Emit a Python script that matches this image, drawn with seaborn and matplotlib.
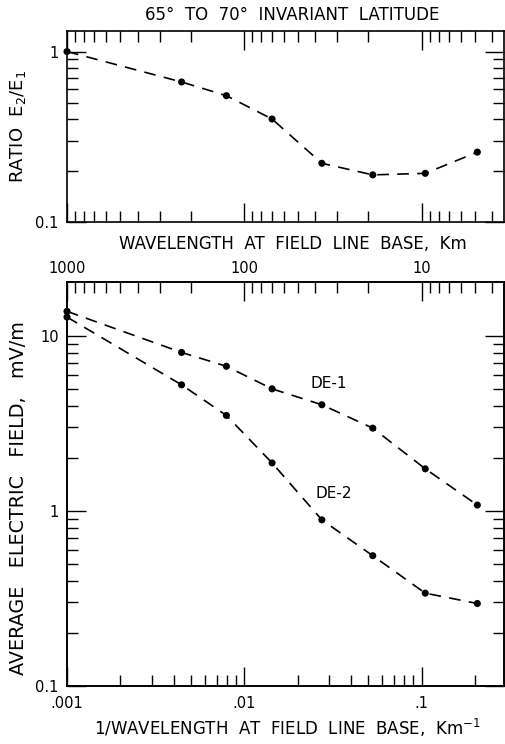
import numpy as np
import pandas as pd
import matplotlib
matplotlib.use("Agg")
import matplotlib.pyplot as plt
from matplotlib.ticker import FixedLocator, NullFormatter, FixedFormatter
import seaborn as sns

# ---- data ----
inv_wavelength = [0.001, 0.00443, 0.00793, 0.01435, 0.0274, 0.0531, 0.105, 0.2065]
ratio_e2_e1 = [1.0, 0.663, 0.551, 0.402, 0.221, 0.189, 0.193, 0.257]
de1_field = [13.8, 8.04, 6.70, 4.98, 4.04, 2.97, 1.74, 1.08]
de2_field = [12.8, 5.25, 3.51, 1.88, 0.889, 0.555, 0.339, 0.296]

freq_major = [0.001, 0.01, 0.1]
freq_major_labels = [".001", ".01", ".1"]
wavelength_major = [1000, 100, 10]
wavelength_major_labels = ["1000", "100", "10"]
wavelength_minor = [900, 800, 700, 600, 500, 400, 300, 200,
                    90, 80, 70, 60, 50, 40, 30, 20,
                    9, 8, 7, 6, 5, 4]

df_ratio = pd.DataFrame({"f": inv_wavelength, "r": ratio_e2_e1})
df_field = pd.DataFrame({"f": inv_wavelength * 2,
                         "E": de1_field + de2_field,
                         "sat": ["DE-1"] * len(de1_field) + ["DE-2"] * len(de2_field)})

sns.set_style("ticks", {"axes.edgecolor": "black", "text.color": "black",
                        "xtick.color": "black", "ytick.color": "black",
                        "axes.labelcolor": "black"})
plt.rcParams["font.family"] = ["DejaVu Sans"]
plt.rcParams["axes.linewidth"] = 1.2

FS = 10.5
LFS = 12
DASH = (0, (7, 5))
XLIM = (0.001, 0.292)

fig = plt.figure(figsize=(5.06, 7.44), dpi=100)
ax1 = fig.add_axes([67 / 506, 1 - 222 / 744, 437 / 506, 191 / 744])
ax2 = fig.add_axes([67 / 506, 1 - 686 / 744, 437 / 506, 404 / 744])

# ---- top panel: ratio ----
sns.lineplot(data=df_ratio, x="f", y="r", ax=ax1, color="black",
             linestyle=DASH, linewidth=1.2, sort=False)
sns.scatterplot(data=df_ratio, x="f", y="r", ax=ax1, color="black",
                s=26, edgecolor="none", zorder=4, clip_on=False)
ax1.set_xscale("log")
ax1.set_yscale("log")
ax1.set_xlim(*XLIM)
ax1.set_ylim(0.1, 1.32)
ax1.xaxis.set_major_locator(FixedLocator([1 / w for w in wavelength_major]))
ax1.xaxis.set_minor_locator(FixedLocator([1 / w for w in wavelength_minor]))
ax1.xaxis.set_major_formatter(NullFormatter())
ax1.xaxis.set_minor_formatter(NullFormatter())
ax1.yaxis.set_major_locator(FixedLocator([0.1, 1]))
ax1.yaxis.set_major_formatter(FixedFormatter(["0.1", "1"]))
ax1.yaxis.set_minor_locator(FixedLocator([0.2, 0.3, 0.4, 0.5, 0.6, 0.7, 0.8, 0.9]))
ax1.yaxis.set_minor_formatter(NullFormatter())
ax1.set_xlabel("")
ax1.set_ylabel("RATIO  E$_2$/E$_1$", fontsize=LFS + 1)
ax1.yaxis.label.set_va("center")
ax1.yaxis.set_label_coords(-0.112, 0.5)
ax1.text(0.516, 1.084, "65°  TO  70°  INVARIANT  LATITUDE", transform=ax1.transAxes,
         ha="center", va="center", fontsize=LFS)

# ---- bottom panel: average electric field ----
for name in ["DE-1", "DE-2"]:
    sub = df_field[df_field["sat"] == name]
    sns.lineplot(data=sub, x="f", y="E", ax=ax2, color="black",
                 linestyle=DASH, linewidth=1.2, sort=False)
    sns.scatterplot(data=sub, x="f", y="E", ax=ax2, color="black",
                    s=26, edgecolor="none", zorder=4, clip_on=False)
ax2.set_xscale("log")
ax2.set_yscale("log")
ax2.set_xlim(*XLIM)
ax2.set_ylim(0.1, 20.3)
ax2.xaxis.set_major_locator(FixedLocator(freq_major))
ax2.xaxis.set_major_formatter(FixedFormatter(freq_major_labels))
ax2.xaxis.set_minor_locator(FixedLocator([m * d for d in [0.001, 0.01, 0.1]
                                          for m in range(2, 10) if m * d < XLIM[1]]))
ax2.xaxis.set_minor_formatter(NullFormatter())
ax2.yaxis.set_major_locator(FixedLocator([0.1, 1, 10]))
ax2.yaxis.set_major_formatter(FixedFormatter(["0.1", "1", "10"]))
ax2.yaxis.set_minor_locator(FixedLocator([m * d for d in [0.1, 1]
                                          for m in range(2, 10)]))
ax2.yaxis.set_minor_formatter(NullFormatter())
ax2.set_ylabel("AVERAGE   ELECTRIC   FIELD,   mV/m", fontsize=LFS + 1.8)
ax2.yaxis.label.set_va("center")
ax2.yaxis.set_label_coords(-0.11, 0.465)
ax2.set_xlabel("1/WAVELENGTH  AT  FIELD  LINE  BASE,  Km$^{-1}$", fontsize=LFS)
ax2.xaxis.set_label_coords(0.505, -0.104)
ax2.xaxis.label.set_va("center")
ax2.text(0.0299, 5.33, "DE-1", ha="center", va="center", fontsize=FS + 0.5)
ax2.text(0.0319, 1.26, "DE-2", ha="center", va="center", fontsize=FS + 0.5)

# top (wavelength) axis of the bottom panel
axt = ax2.twiny()
axt.set_xscale("log")
axt.set_xlim(*XLIM)
axt.xaxis.set_major_locator(FixedLocator([1 / w for w in wavelength_major]))
axt.xaxis.set_major_formatter(FixedFormatter(wavelength_major_labels))
axt.xaxis.set_minor_locator(FixedLocator([1 / w for w in wavelength_minor]))
axt.xaxis.set_minor_formatter(NullFormatter())
axt.set_xlabel("WAVELENGTH  AT  FIELD  LINE  BASE,  Km", fontsize=LFS)
axt.xaxis.set_label_coords(0.518, 1.094)
axt.xaxis.label.set_va("center")
axt.tick_params(axis="x", which="major", direction="in", length=14, width=1.0,
                labelsize=FS, pad=4)
axt.tick_params(axis="x", which="minor", direction="in", length=8, width=1.0)

# common tick styling
for ax in (ax1, ax2):
    ax.tick_params(which="major", direction="in", length=14, width=1.0,
                   labelsize=FS, pad=6)
    ax.tick_params(which="minor", direction="in", length=8, width=1.0)
    ax.tick_params(axis="y", which="both", left=True, right=True)
    for s in ax.spines.values():
        s.set_visible(True)
        s.set_linewidth(1.2)
ax1.tick_params(axis="x", which="both", top=True, bottom=True)
ax2.tick_params(axis="x", which="both", top=False, bottom=True, pad=7)

fig.savefig("out.png", dpi=100, facecolor="white")
